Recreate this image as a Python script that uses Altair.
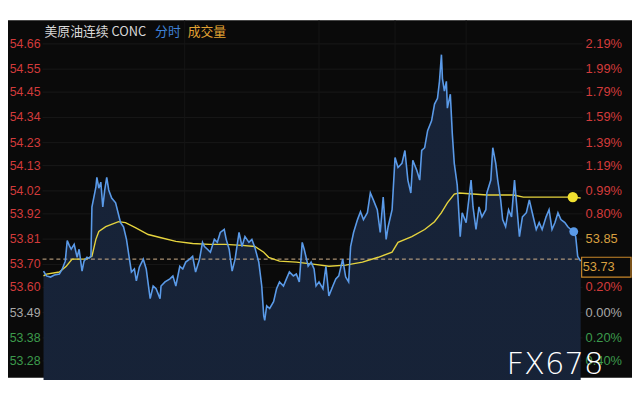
import altair as alt
import pandas as pd

# ---- price line (minute index, price) ----
t_price = [1, 4, 8, 12, 17, 20, 23, 25, 27, 29, 32, 35, 37, 40, 42, 45, 47, 49, 50, 52, 54, 55, 57, 59,
           61, 63, 65, 67, 70, 74, 77, 79, 82, 85, 88, 90, 93, 95, 98, 102, 105, 107, 109, 112, 115, 119,
           120, 124, 129, 132, 135, 139, 142, 145, 149, 152, 155, 159, 162, 164, 167, 170, 174, 177, 180,
           184, 186, 189, 192, 195, 199, 202, 205, 209, 212, 215, 219, 222, 224, 225, 227, 230, 234, 237,
           240, 244, 247, 250, 254, 257, 260, 263, 265, 269, 272, 275, 277, 280, 284, 287, 290, 294, 297,
           300, 304, 307, 310, 312, 315, 319, 322, 325, 329, 332, 335, 339, 342, 345, 348, 350, 354, 357,
           360, 364, 367, 370, 373, 375, 379, 382, 384, 387, 390, 394, 397, 400, 402, 404, 405, 407, 409,
           410, 413, 415, 417, 420, 423, 425, 429, 432, 434, 436, 439, 442, 445, 449, 450, 454, 456, 459,
           461, 464, 466, 469, 472, 475, 478, 480, 483, 486, 490, 493, 496, 500, 503, 506, 510, 513, 516,
           519, 522, 525, 529, 532, 535, 538, 540, 542, 545]
price = [53.671, 53.650, 53.645, 53.654, 53.658, 53.680, 53.714, 53.804, 53.783, 53.766, 53.787, 53.731,
         53.766, 53.671, 53.714, 53.731, 53.727, 53.735, 53.950, 53.993, 54.036, 54.079, 54.032, 54.058,
         53.950, 54.024, 54.079, 54.024, 53.989, 53.968, 53.916, 53.882, 53.864, 53.809, 53.723, 53.667,
         53.680, 53.628, 53.688, 53.723, 53.680, 53.615, 53.551, 53.606, 53.594, 53.551, 53.606, 53.624,
         53.637, 53.650, 53.606, 53.692, 53.680, 53.710, 53.723, 53.735, 53.667, 53.723, 53.796, 53.778,
         53.766, 53.753, 53.809, 53.796, 53.839, 53.852, 53.809, 53.766, 53.671, 53.723, 53.839, 53.778,
         53.821, 53.796, 53.809, 53.774, 53.710, 53.606, 53.477, 53.456, 53.520, 53.508, 53.538, 53.594,
         53.624, 53.606, 53.637, 53.667, 53.650, 53.658, 53.624, 53.796, 53.766, 53.692, 53.710, 53.680,
         53.606, 53.624, 53.594, 53.692, 53.563, 53.606, 53.637, 53.650, 53.723, 53.645, 53.624, 53.778,
         53.839, 53.895, 53.929, 53.895, 53.925, 54.011, 53.981, 53.938, 53.839, 53.993, 53.809, 53.864,
         53.938, 54.165, 54.122, 54.140, 54.196, 54.067, 54.011, 54.153, 54.110, 54.067, 54.196, 54.208,
         54.282, 54.325, 54.398, 54.423, 54.497, 54.613, 54.509, 54.454, 54.497, 54.380, 54.441, 54.269,
         54.140, 54.045, 53.821, 53.925, 53.882, 53.993, 54.067, 53.950, 53.852, 53.950, 53.907, 53.938,
         54.011, 54.067, 54.208, 54.140, 54.067, 53.981, 53.895, 53.864, 53.938, 53.907, 54.067, 53.968,
         53.821, 53.907, 53.925, 53.981, 53.925, 53.852, 53.882, 53.852, 53.907, 53.938, 53.852, 53.882,
         53.925, 53.895, 53.882, 53.864, 53.852, 53.843, 53.821, 53.735, 53.714]

# ---- average price line ----
t_avg = [1, 4, 17, 24, 30, 44, 50, 54, 57, 64, 77, 84, 94, 107, 119, 135, 152, 169, 185, 202, 215, 224,
         229, 240, 257, 274, 290, 307, 324, 340, 354, 360, 374, 387, 397, 404, 410, 417, 422, 450, 477,
         487, 517, 537, 545]
avg = [53.650, 53.658, 53.667, 53.692, 53.723, 53.723, 53.735, 53.809, 53.843, 53.864, 53.886, 53.882,
       53.860, 53.830, 53.817, 53.800, 53.791, 53.787, 53.787, 53.783, 53.778, 53.753, 53.731, 53.714,
       53.710, 53.701, 53.692, 53.697, 53.710, 53.731, 53.753, 53.796, 53.821, 53.852, 53.886, 53.925,
       53.968, 54.006, 54.011, 54.002, 54.002, 53.993, 53.993, 53.993, 53.989]

prev_close = 53.723
last_t_price, last_price = 538, 53.843
last_t_avg, last_avg = 537, 53.993

# ---- axis labels ----
left_labels = ["54.66", "54.55", "54.45", "54.34", "54.23", "54.13", "54.02",
               "53.92", "53.81", "53.70", "53.60", "53.49", "53.38", "53.28"]
left_colors = ["#d23b3b"] * 11 + ["#a8a8a8", "#3c9a4c", "#3c9a4c"]
right_labels = ["2.19%", "1.99%", "1.79%", "1.59%", "1.39%", "1.19%", "0.99%",
                "0.80%", "53.85", "", "0.20%", "0.00%", "0.20%", "0.40%"]
right_colors = ["#d23b3b"] * 8 + ["#d9a040", "#d23b3b", "#d23b3b", "#a8a8a8", "#3c9a4c", "#3c9a4c"]
box_label, box_price = "53.73", 53.688
vgrid_t = [144, 280, 357, 429]

W, H = 632, 362
xs = alt.Scale(domain=[-35, 597], nice=False, zero=False)
ys = alt.Scale(domain=[53.207, 54.763], nice=False, zero=False)

df_p = pd.DataFrame({"t": t_price, "p": price})
df_a = pd.DataFrame({"t": t_avg, "p": avg})
df_l = pd.DataFrame({"label": left_labels, "color": left_colors,
                     "p": [float(v) for v in left_labels]})
df_r = pd.DataFrame({"label": right_labels, "color": right_colors,
                     "p": [float(v) for v in left_labels]})
df_r = df_r[df_r["label"] != ""]

X = lambda: alt.X("t:Q", scale=xs, axis=None)
Y = lambda f="p": alt.Y(f + ":Q", scale=ys, axis=None)

hgrid = alt.Chart(df_l).mark_rule(color="#181818", strokeWidth=1).encode(
    y=Y(), x=alt.value(35), x2=alt.value(582))
vgrid = alt.Chart(pd.DataFrame({"t": vgrid_t})).mark_rule(color="#151515", strokeWidth=1).encode(
    x=X(), y=alt.value(0), y2=alt.value(H))

area = alt.Chart(df_p).mark_area(
    color=alt.Gradient(gradient="linear", x1=0, x2=0, y1=0, y2=1,
                       stops=[alt.GradientStop(color="#172338", offset=0),
                              alt.GradientStop(color="#131b2b", offset=0.5),
                              alt.GradientStop(color="#10161f", offset=1)]),
    interpolate="linear").encode(x=X(), y=Y(), y2=alt.value(H))

dash = alt.Chart(pd.DataFrame({"p": [prev_close]})).mark_rule(
    color="#d2b28c", strokeDash=[4, 3], strokeWidth=1).encode(
    y=Y(), x=alt.value(35), x2=alt.value(582))

pline = alt.Chart(df_p).mark_line(color="#5a9ae8", strokeWidth=1.6).encode(x=X(), y=Y())
aline = alt.Chart(df_a).mark_line(color="#e6d43e", strokeWidth=1.4).encode(x=X(), y=Y())

pdot = alt.Chart(pd.DataFrame({"t": [last_t_price], "p": [last_price]})).mark_point(
    filled=True, size=80, color="#5a9ae8", opacity=1).encode(x=X(), y=Y())
adot = alt.Chart(pd.DataFrame({"t": [last_t_avg], "p": [last_avg]})).mark_point(
    filled=True, size=110, color="#f2e230", opacity=1).encode(x=X(), y=Y())

ltext = alt.Chart(df_l).mark_text(align="right", baseline="middle", fontSize=12.5,
                                  font="Liberation Sans").encode(
    y=Y(), x=alt.value(33), text="label:N", color=alt.Color("color:N", scale=None))
rtext = alt.Chart(df_r).mark_text(align="left", baseline="middle", fontSize=13,
                                  font="Liberation Sans").encode(
    y=Y(), x=alt.value(585), text="label:N", color=alt.Color("color:N", scale=None))

box = alt.Chart(pd.DataFrame({"p": [53.731], "p2": [53.645]})).mark_rect(
    fill="#0a0a0a", stroke="#c8862a", strokeWidth=1.2).encode(
    y=Y(), y2="p2:Q", x=alt.value(581), x2=alt.value(631))
btext = alt.Chart(pd.DataFrame({"label": [box_label], "p": [box_price]})).mark_text(
    align="left", baseline="middle", fontSize=13, font="Liberation Sans", color="#d9a040").encode(
    y=Y(), x=alt.value(582), text="label:N")

title_parts = pd.DataFrame({"label": ["美原油连续 CONC", "分时", "成交量"],
                            "color": ["#d8d8d8", "#3f82d8", "#e2a233"],
                            "xpos": [37, 149, 182]})
titles = alt.layer(*[
    alt.Chart(title_parts.iloc[[i]]).mark_text(
        align="left", baseline="middle", fontSize=13, font="Noto Sans CJK SC").encode(
        x=alt.value(int(title_parts["xpos"].iloc[i])), y=alt.value(12), text="label:N",
        color=alt.Color("color:N", scale=None))
    for i in range(3)])

wm = alt.Chart(pd.DataFrame({"label": ["FX678"]})).mark_text(
    align="center", baseline="alphabetic", fontSize=31, font="DejaVu Sans",
    fontWeight=300, color="#ffffff").encode(
    x=alt.value(554), y=alt.value(358), text="label:N")

chart = alt.layer(hgrid, vgrid, area, dash, aline, pline, pdot, adot,
                  ltext, rtext, box, btext, titles, wm).properties(
    width=W, height=H,
    autosize=alt.AutoSizeParams(type="none"),
    padding={"top": 10, "left": 0, "right": 0, "bottom": 0},
    background="#ffffff",
).configure_view(fill="#0a0a0a", stroke=None)

chart.save("out.html", embed_options={"renderer": "svg", "actions": False})
